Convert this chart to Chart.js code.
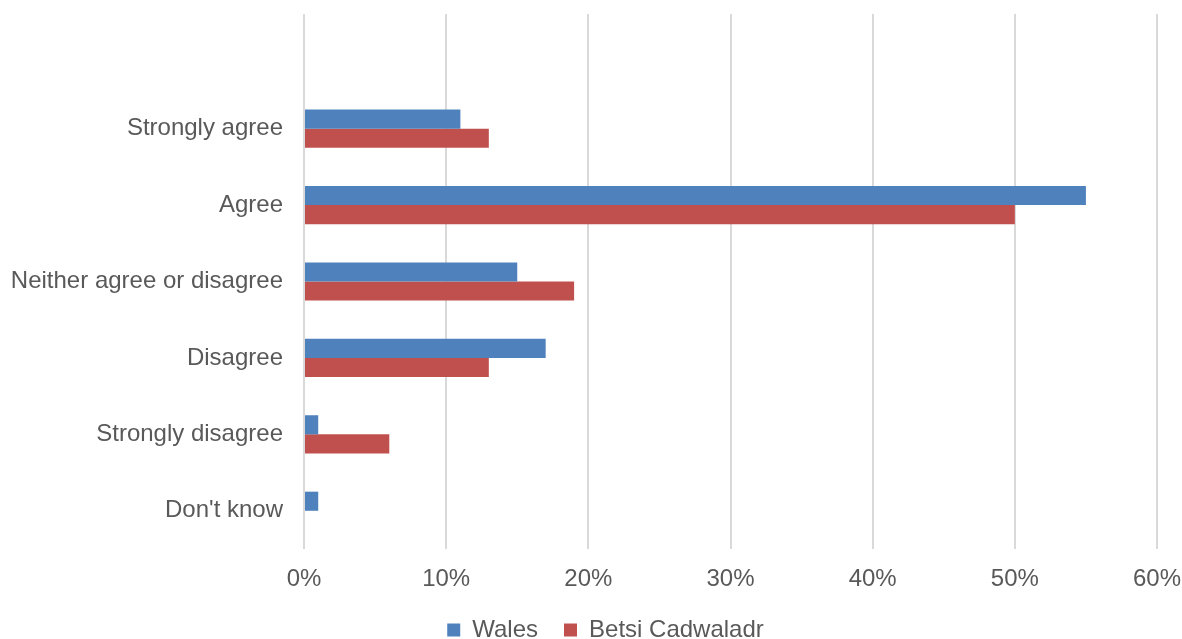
<!DOCTYPE html>
<html>
<head>
<meta charset="utf-8">
<script src="https://cdn.jsdelivr.net/npm/chart.js@4"></script>
<style>
  html, body { margin: 0; padding: 0; background: #fff; overflow: hidden; }
  #wrap { width: 1182px; height: 652px; }
</style>
</head>
<body>
<div id="wrap"><canvas id="grafico"></canvas></div>
<script>
// categorias (a primeira fica vazia, como no original)
const categorias = ["", "Strongly agree", "Agree", "Neither agree or disagree", "Disagree", "Strongly disagree", "Don't know"];
const wales = [null, 11, 55, 15, 17, 1, 1];
const betsi = [null, 13, 50, 19, 13, 6, 0];
const ticksX = [0, 10, 20, 30, 40, 50, 60];

const corTexto = "#595959";
const fonte = "'Liberation Sans', Arial, sans-serif";

const ctx = document.getElementById("grafico").getContext("2d");

new Chart(ctx, {
  type: "bar",
  data: {
    labels: categorias,
    datasets: [
      {
        label: "Wales",
        data: wales,
        backgroundColor: "#4F81BD",
        categoryPercentage: 0.5,
        barPercentage: 1.0,
      },
      {
        label: "Betsi Cadwaladr",
        data: betsi,
        backgroundColor: "#C0504D",
        categoryPercentage: 0.5,
        barPercentage: 1.0,
      },
    ],
  },
  options: {
    indexAxis: "y",
    responsive: true,
    maintainAspectRatio: false,
    animation: false,
    // right negativo só para deslocar a legenda para a direita
    layout: { padding: { top: 14, right: -18, bottom: 0, left: 11 } },
    scales: {
      x: {
        min: ticksX[0],
        max: ticksX[ticksX.length - 1],
        afterBuildTicks: (axis) => {
          axis.ticks = ticksX.map((v) => ({ value: v }));
        },
        afterFit: (axis) => {
          axis.height = 43;
          axis.paddingLeft = 0;
          axis.paddingRight = 25;
        },
        grid: { color: "#D9D9D9", lineWidth: 2, drawTicks: false },
        border: { display: false },
        ticks: {
          color: corTexto,
          padding: 16,
          font: { family: fonte, size: 24 },
          callback: (v) => v + "%",
        },
      },
      y: {
        afterFit: (axis) => {
          axis.width = 293;
          axis.paddingTop = 0;
          axis.paddingBottom = 0;
        },
        grid: { display: false, drawTicks: false },
        border: { display: false },
        ticks: {
          color: corTexto,
          padding: 21,
          font: { family: fonte, size: 24 },
        },
      },
    },
    plugins: {
      legend: {
        position: "bottom",
        labels: {
          color: corTexto,
          boxWidth: 13,
          boxHeight: 13,
          padding: 26,
          font: { family: fonte, size: 24 },
        },
      },
      tooltip: { enabled: false },
    },
  },
});
</script>
</body>
</html>
